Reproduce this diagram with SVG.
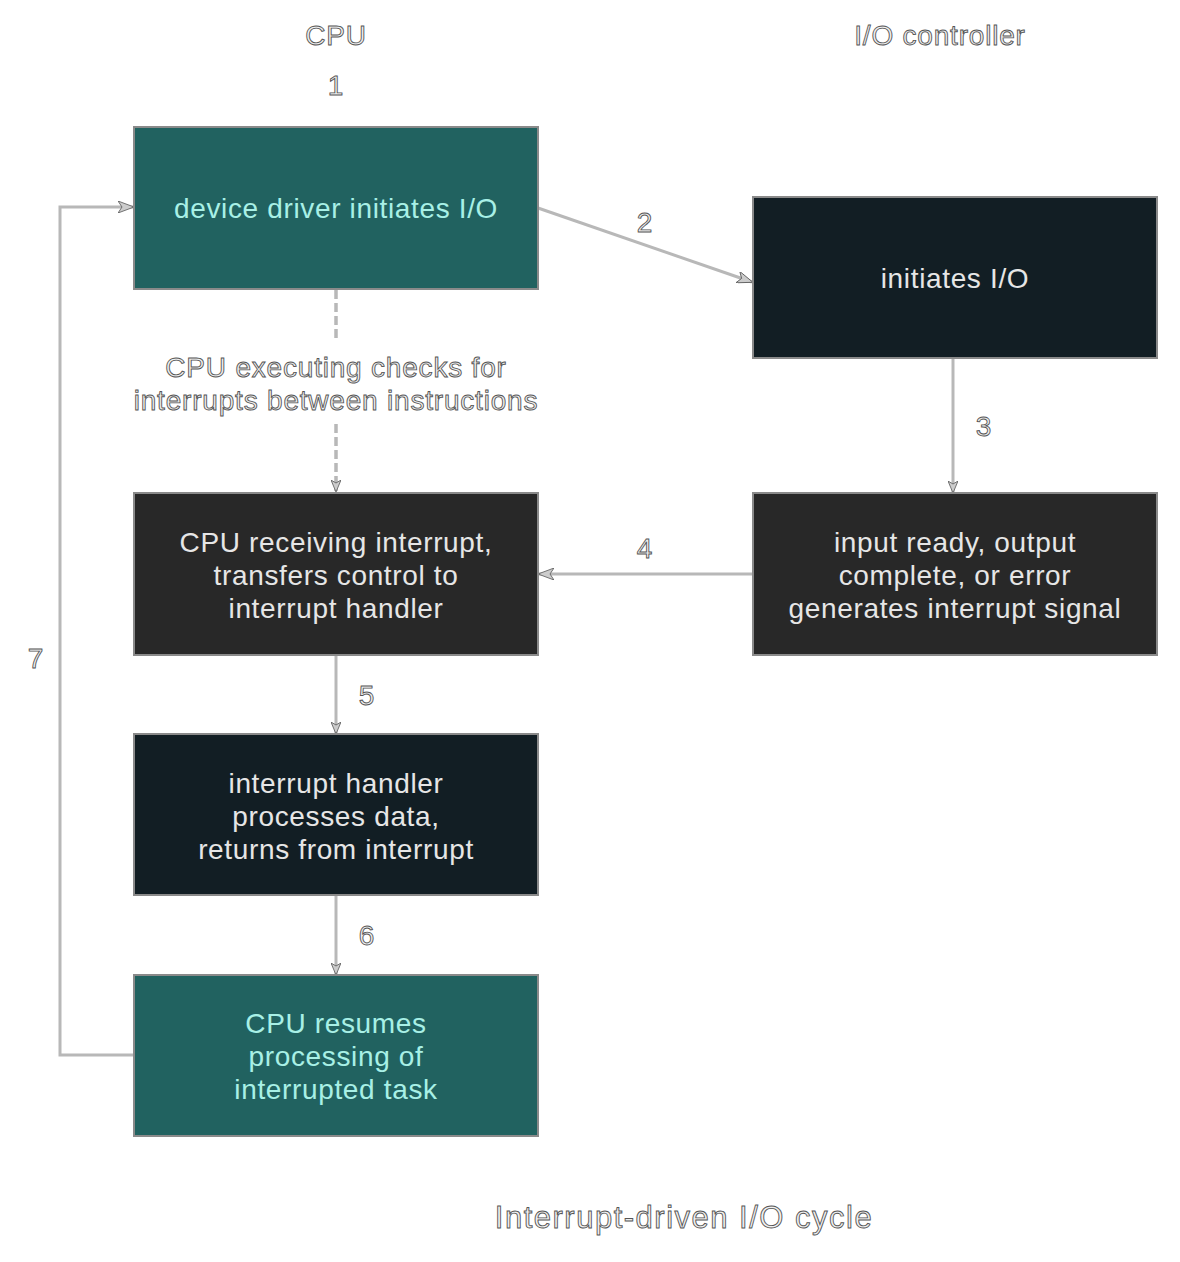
<svg xmlns="http://www.w3.org/2000/svg" width="1180" height="1262" viewBox="0 0 1180 1262">
<style>
.box{stroke:#8a8a8a;stroke-width:2}
.teal{fill:#216260}
.navy{fill:#121e24}
.gray{fill:#282828}
.tt{font-family:"Liberation Sans",Arial,sans-serif;font-size:28px;letter-spacing:0.65px;text-anchor:middle}
.tteal{fill:#a8f0e6}
.tlight{fill:#e6e6e6}
.lbl{font-family:"Liberation Sans",Arial,sans-serif;font-size:28px;letter-spacing:0.8px;text-anchor:middle;fill:#f0f0f0;stroke:#555;stroke-width:0.9}
.ttl{font-family:"Liberation Sans",Arial,sans-serif;font-size:31px;letter-spacing:1.5px;text-anchor:middle;fill:#f0f0f0;stroke:#555;stroke-width:0.9}
.c{fill:none;stroke:#b8b8b8;stroke-width:3}
.d{fill:none;stroke:#b8b8b8;stroke-width:3.5;stroke-dasharray:9,4}
</style>
<defs>
<marker id="ah" viewBox="0 0 12 10" refX="11" refY="5" markerWidth="12" markerHeight="10" markerUnits="userSpaceOnUse" orient="auto">
<path d="M0,0 L12,5 L0,10 L3,5 Z" fill="#cccccc" stroke="#555" stroke-width="0.8"/>
</marker>
<marker id="ahb" viewBox="0 0 16 12" refX="15" refY="6" markerWidth="16" markerHeight="12" markerUnits="userSpaceOnUse" orient="auto">
<path d="M0,0 L16,6 L0,12 L4,6 Z" fill="#cccccc" stroke="#555" stroke-width="0.8"/>
</marker>
</defs>
<text class="lbl" x="336" y="45">CPU</text>
<text class="lbl" x="940" y="45">I/O controller</text>
<text class="lbl" x="336" y="95">1</text>
<g id="connectors">
<line class="c" x1="538" y1="208" x2="752" y2="282" marker-end="url(#ahb)"/>
<line class="d" x1="336" y1="290" x2="336" y2="342"/>
<line class="d" x1="336" y1="424" x2="336" y2="491" marker-end="url(#ah)"/>
<line class="c" x1="953" y1="358" x2="953" y2="492" marker-end="url(#ah)"/>
<line class="c" x1="753" y1="574" x2="539" y2="574" marker-end="url(#ahb)"/>
<line class="c" x1="336" y1="655" x2="336" y2="733" marker-end="url(#ah)"/>
<line class="c" x1="336" y1="895" x2="336" y2="974" marker-end="url(#ah)"/>
<polyline class="c" points="134,1055 60,1055 60,207 133,207" marker-end="url(#ahb)"/>
<text class="lbl" x="645" y="232">2</text>
<text class="lbl" x="336" y="377">CPU executing checks for</text>
<text class="lbl" x="336" y="410">interrupts between instructions</text>
<text class="lbl" x="984" y="436">3</text>
<text class="lbl" x="645" y="558">4</text>
<text class="lbl" x="367" y="705">5</text>
<text class="lbl" x="367" y="945">6</text>
<text class="lbl" x="36" y="668">7</text>
</g>
<g id="n1">
<rect class="box teal" x="134" y="127" width="404" height="162"/>
<text class="tt tteal" x="336" y="218">device driver initiates I/O</text>
</g>
<g id="n2">
<rect class="box navy" x="753" y="197" width="404" height="161"/>
<text class="tt tlight" x="955" y="288">initiates I/O</text>
</g>
<g id="n3">
<rect class="box gray" x="134" y="493" width="404" height="162"/>
<text class="tt tlight" x="336" y="552">CPU receiving interrupt,</text>
<text class="tt tlight" x="336" y="585">transfers control to</text>
<text class="tt tlight" x="336" y="618">interrupt handler</text>
</g>
<g id="n4">
<rect class="box gray" x="753" y="493" width="404" height="162"/>
<text class="tt tlight" x="955" y="552">input ready, output</text>
<text class="tt tlight" x="955" y="585">complete, or error</text>
<text class="tt tlight" x="955" y="618">generates interrupt signal</text>
</g>
<g id="n5">
<rect class="box navy" x="134" y="734" width="404" height="161"/>
<text class="tt tlight" x="336" y="793">interrupt handler</text>
<text class="tt tlight" x="336" y="826">processes data,</text>
<text class="tt tlight" x="336" y="859">returns from interrupt</text>
</g>
<g id="n6">
<rect class="box teal" x="134" y="975" width="404" height="161"/>
<text class="tt tteal" x="336" y="1033">CPU resumes</text>
<text class="tt tteal" x="336" y="1066">processing of</text>
<text class="tt tteal" x="336" y="1099">interrupted task</text>
</g>
<text class="ttl" x="684" y="1228">Interrupt-driven I/O cycle</text>
</svg>
